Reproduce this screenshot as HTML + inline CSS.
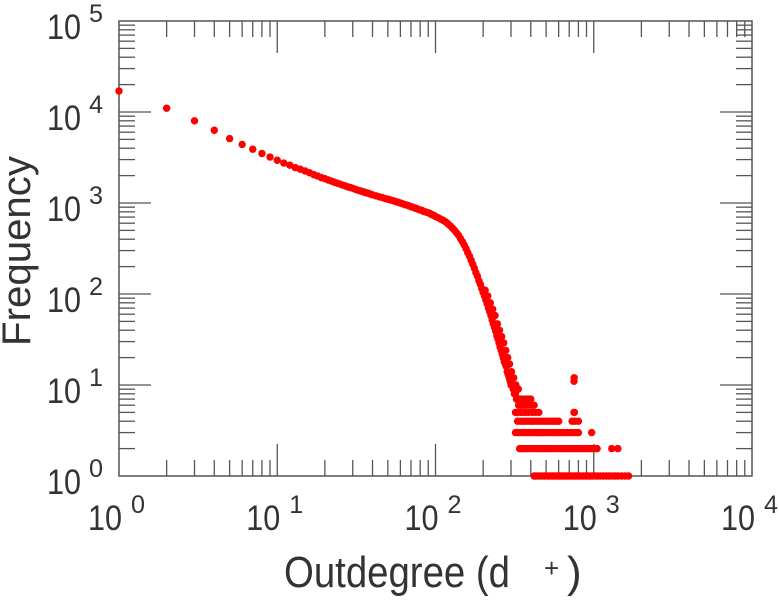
<!DOCTYPE html>
<html><head><meta charset="utf-8"><style>
body{margin:0;background:#fff;}
svg{display:block;font-family:"Liberation Sans",sans-serif;}
</style></head><body>
<svg id="chart" width="779" height="600" viewBox="0 0 779 600">
<g id="ticks"></g>
<rect x="119" y="21" width="633" height="455" fill="none" stroke="#555" stroke-width="1.5"/>
<g id="labels" fill="#333"></g>
<g id="pts" fill="#ff0000"></g>
<text transform="translate(30,251) rotate(-90)" text-anchor="middle" font-size="40" textLength="190" lengthAdjust="spacingAndGlyphs" fill="#333">Frequency</text>
<text x="284" y="587" font-size="44" fill="#333"><tspan textLength="226" lengthAdjust="spacingAndGlyphs">Outdegree (d</tspan><tspan x="544" y="577" font-size="26">+</tspan><tspan x="567" y="587" font-size="44">)</tspan></text>
</svg>
<script>
const xDecades=[0,1,2,3,4];
const yDecades=[0,1,2,3,4,5];
const degrees=[1,2,3,4,5,6,7,8,9,10,11,12,13,14,15,16,17,18,19,20,21,22,23,24,25,26,27,28,29,30,31,32,33,34,35,36,37,38,39,40,
42,44,46,48,50,52,54,56,58,60,62,64,66,68,70,72,74,76,78,80,82,84,86,88,90,92,94,96,98,100,
104,108,112,116,120,124,128,132,136,140,144,148,152,156,160,164,168,172,176,180,184,188,192,196,200,204,208,212,216,220,224,228,232,236,240,244,248,252,256,260,264,268,272,276,280,284,288,292,296,300,305,310,315,320,325,330,
206,214,222,230,238,246,254,262,270,278,286,294,302,312,322,334];
const frequencies=[17000,11000,8000,6300,5100,4400,3900,3500,3200,2950,2750,2600,2450,2350,2250,2150,2050,1980,1900,1850,1790,1740,1690,1650,1610,1570,1540,1500,1480,1450,1420,1390,1370,1350,1330,1300,1290,1270,1250,1230,
1200,1170,1150,1120,1100,1080,1060,1040,1020,1000,980,960,950,930,910,900,880,870,850,840,830,810,800,790,780,770,750,740,730,710,
690,665,645,620,590,560,530,500,470,440,405,375,345,315,285,260,235,212,192,172,157,140,128,115,104,95,86,78,70,64,58,52,47,43,39,35,32,29,26,24,22,20,18,17,16,14,13,12,11,10,10,9,8,8,7,7,
110,95,80,68,58,47,40,34,29,24,20,17,14,12,10,9];
const tailDegrees=[340,345,350,360,370,380,390,400,
335,345,355,365,375,390,405,420,
320,330,345,360,375,390,410,430,450,750,755,
330,345,360,375,390,405,420,440,460,480,500,520,540,560,580,600,730,760,800,
320,330,340,355,370,385,400,415,430,445,460,475,490,510,530,550,570,590,610,630,650,680,710,740,770,800,970,
340,350,362,375,388,400,415,430,445,460,475,490,505,520,540,560,580,600,620,640,660,680,700,720,740,760,780,800,825,850,875,900,930,960,990,1020,1050,1300,1420,
420,430,445,460,475,490,505,520,535,550,565,580,595,610,625,640,660,680,700,720,740,760,780,800,830,860,890,920,950,980,1020,1060,1100,1150,1200,1250,1300,1360,1420,1500,1580,1660];
const tailFreqs=[7,7,7,7,7,7,7,7,
6,6,6,6,6,6,6,6,
5,5,5,5,5,5,5,5,5,5,5,
4,4,4,4,4,4,4,4,4,4,4,4,4,4,4,4,4,4,4,
3,3,3,3,3,3,3,3,3,3,3,3,3,3,3,3,3,3,3,3,3,3,3,3,3,3,3,
2,2,2,2,2,2,2,2,2,2,2,2,2,2,2,2,2,2,2,2,2,2,2,2,2,2,2,2,2,2,2,2,2,2,2,2,2,2,2,
1,1,1,1,1,1,1,1,1,1,1,1,1,1,1,1,1,1,1,1,1,1,1,1,1,1,1,1,1,1,1,1,1,1,1,1,1,1,1,1,1,1];
const spikeDegrees=[750,752];
const spikeFreqs=[11,12];

const X0=119,X1=752,Y0=476,Y1=21;
const xs=d=>X0+(Math.log10(d)-0)/4*(X1-X0);
const ys=f=>Y0-(Math.log10(f)-0)/5*(Y0-Y1);
const NS="http://www.w3.org/2000/svg";
const tg=document.getElementById('ticks'),lg=document.getElementById('labels'),pg=document.getElementById('pts');
function line(x1,y1,x2,y2,name){const l=document.createElementNS(NS,'line');
l.setAttribute('x1',x1);l.setAttribute('y1',y1);l.setAttribute('x2',x2);l.setAttribute('y2',y2);
l.setAttribute('stroke','#555');l.setAttribute('stroke-width','1.3');


tg.appendChild(l);}
function label(x,y,ex,ey,exp,name){const t=document.createElementNS(NS,'text');


t.setAttribute('font-size','35');
t.setAttribute('x',x);
t.setAttribute('y',y);
t.setAttribute('textLength','34');
t.setAttribute('lengthAdjust','spacingAndGlyphs');
t.textContent='10';
lg.appendChild(t);
const s=document.createElementNS(NS,'text');


s.setAttribute('x',ex);s.setAttribute('y',ey);s.setAttribute('font-size','25');
s.setAttribute('textLength','14');
s.setAttribute('lengthAdjust','spacingAndGlyphs');
s.textContent=String(exp);
lg.appendChild(s);}
xDecades.forEach(e=>{const x=xs(Math.pow(10,e));
 if(e>0&&e<4){line(x,Y0,x,Y0-32,'x-major-tick');line(x,Y1,x,Y1+32,'x-major-tick');}
 label(x-31,530,x+12,513,e,'x-tick-label');
 if(e<4)for(let m=2;m<10;m++){const xm=xs(m*Math.pow(10,e));line(xm,Y0,xm,Y0-16,'x-minor-tick');line(xm,Y1,xm,Y1+16,'x-minor-tick');}
});
yDecades.forEach(e=>{const y=ys(Math.pow(10,e));
 if(e>0&&e<5){line(X0,y,X0+32,y,'y-major-tick');line(X1,y,X1-32,y,'y-major-tick');}
 label(47,y+18,89,y+1,e,'y-tick-label');
 if(e<5)for(let m=2;m<10;m++){const ym=ys(m*Math.pow(10,e));line(X0,ym,X0+16,ym,'y-minor-tick');line(X1,ym,X1-16,ym,'y-minor-tick');}
});
function dot(d,f){const c=document.createElementNS(NS,'circle');
c.setAttribute('cx',xs(d));c.setAttribute('cy',ys(f));c.setAttribute('r','3.7');


pg.appendChild(c);}
degrees.forEach((d,i)=>dot(d,frequencies[i]));
tailDegrees.forEach((d,i)=>dot(d,tailFreqs[i]));
spikeDegrees.forEach((d,i)=>dot(d,spikeFreqs[i]));
</script>
</body></html>
